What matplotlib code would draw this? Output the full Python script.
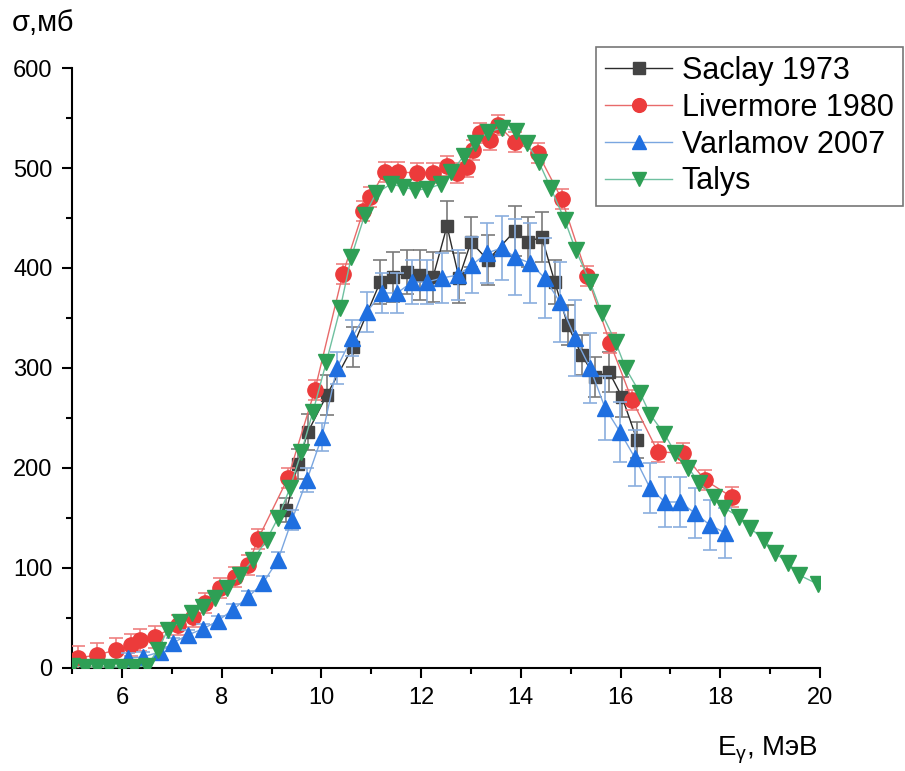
import matplotlib
matplotlib.use("Agg")
import matplotlib.pyplot as plt
from matplotlib.ticker import MultipleLocator
from matplotlib.lines import Line2D

plt.rcParams['font.family'] = ['Liberation Sans', 'DejaVu Sans']
plt.rcParams['mathtext.fontset'] = 'custom'
plt.rcParams['mathtext.rm'] = 'Liberation Sans'
plt.rcParams['mathtext.it'] = 'Liberation Sans'

# --------------------------------------
# Data (E in MeV, sigma in mb)
# --------------------------------------
saclay_e = [9.30, 9.53, 9.73, 10.11, 10.63, 11.18, 11.44, 11.72, 11.98, 12.24,
            12.52, 12.76, 13.00, 13.34, 13.88, 14.14, 14.42, 14.68, 14.94, 15.22,
            15.49, 15.77, 16.03, 16.33]
saclay_s = [158, 204, 236, 273, 321, 386, 391, 396, 393, 391,
            442, 390, 426, 408, 437, 426, 431, 386, 343, 313,
            291, 296, 271, 228]
saclay_err = [12, 15, 18, 20, 20, 22, 25, 22, 25, 25,
              25, 25, 25, 25, 25, 25, 25, 22, 20, 20,
              20, 20, 20, 18]

livermore_e = [5.12, 5.50, 5.88, 6.18, 6.36, 6.66, 7.12, 7.42, 7.66, 7.97,
               8.27, 8.53, 8.73, 9.33, 9.87, 10.43, 10.84, 10.98, 11.27, 11.54,
               11.92, 12.24, 12.52, 12.72, 12.92, 13.04, 13.18, 13.38, 13.54, 13.88,
               14.34, 14.82, 15.33, 15.79, 16.23, 16.75, 17.25, 17.69, 18.23]
livermore_s = [10, 13, 18, 23, 28, 31, 43, 51, 65, 80,
               91, 103, 129, 190, 278, 394, 457, 471, 496, 496,
               495, 495, 502, 495, 501, 518, 535, 528, 543, 526,
               515, 469, 392, 325, 268, 216, 215, 188, 171]
livermore_err = [12, 12, 12, 11, 11, 11, 10, 10, 10, 10,
                 10, 10, 10, 10, 10, 10, 10, 10, 10, 10,
                 10, 10, 10, 10, 10, 10, 10, 10, 10, 10,
                 10, 10, 10, 10, 10, 10, 10, 10, 10]

varlamov_e = [6.12, 6.42, 6.76, 7.02, 7.32, 7.62, 7.92, 8.22, 8.53, 8.83,
              9.13, 9.41, 9.71, 10.01, 10.31, 10.61, 10.91, 11.21, 11.52, 11.82,
              12.12, 12.42, 12.74, 13.02, 13.32, 13.62, 13.88, 14.18, 14.48, 14.78,
              15.09, 15.39, 15.69, 15.99, 16.29, 16.59, 16.89, 17.19, 17.49, 17.79,
              18.10]
varlamov_s = [10, 11, 16, 25, 33, 39, 47, 58, 71, 85,
              108, 148, 188, 231, 300, 330, 356, 375, 375, 386,
              386, 390, 393, 403, 415, 420, 411, 405, 390, 366,
              330, 300, 260, 236, 210, 180, 166, 166, 155, 143,
              135]
varlamov_err = [5, 5, 5, 5, 5, 5, 5, 6, 6, 7,
                8, 10, 12, 14, 16, 18, 20, 20, 20, 22,
                22, 25, 25, 28, 30, 32, 38, 40, 40, 40,
                38, 35, 32, 30, 28, 25, 25, 25, 25, 25,
                25]

talys_e = [5.00, 5.25, 5.50, 5.75, 6.00, 6.25, 6.50, 6.72, 6.92, 7.16,
           7.40, 7.63, 7.87, 8.10, 8.37, 8.63, 8.90, 9.13, 9.37, 9.60,
           9.83, 10.10, 10.38, 10.60, 10.87, 11.10, 11.40, 11.64, 11.88, 12.12,
           12.40, 12.60, 12.86, 13.08, 13.34, 13.62, 13.90, 14.12, 14.36, 14.60,
           14.88, 15.10, 15.39, 15.62, 15.90, 16.10, 16.39, 16.60, 16.88, 17.10,
           17.36, 17.58, 17.88, 18.08, 18.38, 18.60, 18.88, 19.10, 19.36, 19.58,
           19.95]
talys_s = [2, 1, 1, 1, 1, 1, 2, 18, 38, 46,
           55, 61, 70, 80, 93, 108, 128, 150, 180, 216,
           256, 306, 360, 411, 453, 475, 484, 481, 478, 479,
           484, 496, 512, 525, 536, 540, 537, 525, 506, 480,
           448, 418, 386, 355, 326, 300, 275, 253, 234, 215,
           200, 185, 171, 160, 151, 140, 128, 115, 105, 93,
           84]

labels = ["Saclay 1973", "Livermore 1980", "Varlamov 2007", "Talys"]

# style per series: line colour, marker, marker colour, errorbar colour
styles = {
    "Saclay 1973":    dict(color="#2b2b2b", marker="s", mc="#444444", ec="#7a7a7a", ms=9),
    "Livermore 1980": dict(color="#e86a6a", marker="o", mc="#ec3b3b", ec="#ef8080", ms=11),
    "Varlamov 2007":  dict(color="#7aa6e0", marker="^", mc="#1f6fe0", ec="#8aaede", ms=11),
    "Talys":          dict(color="#6fc0a0", marker="v", mc="#2e9f55", ec=None, ms=11),
}

# --------------------------------------
# Plot
# --------------------------------------
fig = plt.figure(figsize=(9.05, 7.71), dpi=100)
ax = fig.add_axes([0.0796, 0.1336, 0.8265, 0.7782])

series = [
    (saclay_e, saclay_s, saclay_err, 3),
    (livermore_e, livermore_s, livermore_err, 4),
    (varlamov_e, varlamov_s, varlamov_err, 5),
    (talys_e, talys_s, None, 6),
]

for lab, (e, s, err, z) in zip(labels, series):
    st = styles[lab]
    if err is not None:
        ax.errorbar(e, s, yerr=err, fmt="none", ecolor=st["ec"], elinewidth=1.2,
                    capsize=5, capthick=1.2, zorder=z)
    ax.plot(e, s, color=st["color"], lw=1.0, marker=st["marker"], ms=st["ms"],
            mfc=st["mc"], mec=st["mc"], zorder=z + 0.5)

# Axes formatting
ax.set_xlim(5, 20)
ax.set_ylim(0, 600)
ax.xaxis.set_major_locator(MultipleLocator(2))
ax.xaxis.set_minor_locator(MultipleLocator(1))
ax.yaxis.set_major_locator(MultipleLocator(100))
ax.yaxis.set_minor_locator(MultipleLocator(50))
ax.tick_params(which="major", direction="out", length=7, width=1.5, labelsize=17, pad=7)
ax.tick_params(which="minor", direction="out", length=4, width=1.5)
ax.spines["top"].set_visible(False)
ax.spines["right"].set_visible(False)
ax.spines["left"].set_linewidth(1.5)
ax.spines["bottom"].set_linewidth(1.5)

fig.text(0.013, 0.97, "σ,мб", fontsize=21, ha="left", va="center")
fig.text(0.904, 0.027, "E$_\\gamma$, МэВ", fontsize=20, ha="right", va="center")

handles = [Line2D([], [], color=styles[l]["color"], lw=1.0, marker=styles[l]["marker"],
                  ms=styles[l]["ms"] * 0.9, mfc=styles[l]["mc"], mec=styles[l]["mc"])
           for l in labels]
leg = ax.legend(handles, labels, loc="upper left",
                bbox_to_anchor=(596 / 905, 1 - 47 / 771), bbox_transform=fig.transFigure,
                fontsize=22, frameon=True, fancybox=False, edgecolor="#555555",
                handlelength=2.2, borderpad=0.3, labelspacing=0.22,
                handletextpad=0.3, borderaxespad=0)
leg.get_frame().set_linewidth(1.2)

fig.savefig("out.png", dpi=100)
plt.close(fig)
